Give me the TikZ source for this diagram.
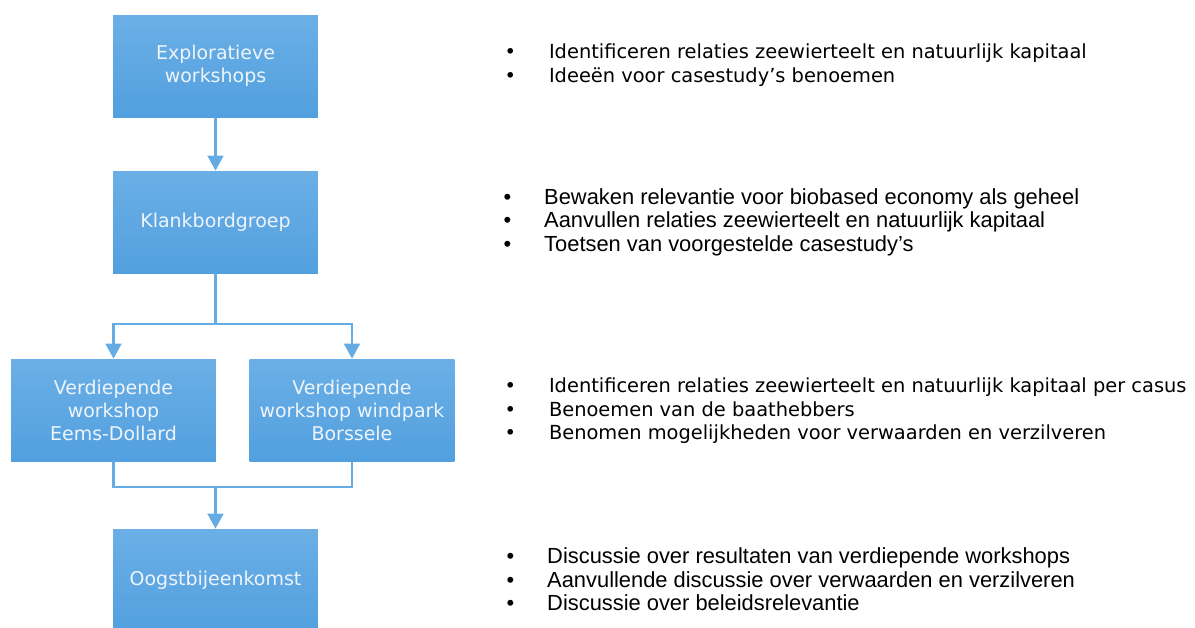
\documentclass[tikz,border=0pt]{standalone}
\usepackage{fontspec}
\setmainfont{DejaVu Sans}
\newfontfamily\arialfont{Liberation Sans}
\usetikzlibrary{arrows.meta}
\definecolor{boxtop}{HTML}{6BAFE6}
\definecolor{boxbot}{HTML}{52A0DF}
\definecolor{flow}{HTML}{66ACE4}
\definecolor{boxtext}{HTML}{EEF4FA}
\tikzset{blok/.style={top color=boxtop,bottom color=boxbot,draw=none,text=boxtext,
    minimum width=4.1cm,minimum height=2.04cm,align=center,inner sep=0pt,
    font=\fontsize{10.8}{13.1}\selectfont}}
\tikzset{lijn/.style={draw=flow,line width=1.15pt}}
\tikzset{pijl/.style={lijn,-{Triangle[width=9pt,length=8.5pt]}}}
\tikzset{lijst/.style={anchor=base west,align=left,inner sep=0pt,
    font=\fontsize{11.05}{13.1}\selectfont}}
\tikzset{lijstb/.style={lijst,font=\arialfont\fontsize{12.45}{13.1}\selectfont}}
\newcommand{\punt}[1]{\makebox[0pt][c]{\textbullet}\hspace{22pt}#1}
\newcommand{\puntb}[1]{\makebox[0pt][c]{\textbullet}\hspace{21pt}#1}

\begin{document}
\begin{tikzpicture}[x=0.02cm,y=-0.02cm]
  \useasboundingbox (0,0) rectangle (1195,627);
  % blokken
  \node[blok] (explo) at (215.5,66) {Exploratieve\\workshops};
  \node[blok] (klank) at (215.5,222) {Klankbordgroep};
  \node[blok] (eems) at (113.5,410) {Verdiepende\\workshop\\Eems-Dollard};
  \node[blok] (bors) at (352,410) {Verdiepende\\workshop windpark\\Borssele};
  \node[blok] (oogst) at (215.5,580) {Oogstbijeenkomst};
  % verbindingen
  \coordinate (split) at (215.5,324);
  \coordinate (merge) at (215.5,487);
  \draw[pijl] (explo) -- (klank);
  \draw[lijn] (klank.south) -- (split);
  \draw[pijl] (split) -| (eems.north);
  \draw[pijl] (split) -| (bors.north);
  \draw[lijn] (eems.south) |- (merge) -| (bors.south);
  \draw[pijl] (merge) -- (oogst.north);
  % toelichting (anker op basislijn van de laatste regel)
  \node[lijst] (l1) at (510,82) {\punt{Identificeren relaties zeewierteelt en natuurlijk kapitaal}\\
    \punt{Ideeën voor casestudy’s benoemen}};
  \node[lijstb] (l2) at (507,251) {\puntb{Bewaken relevantie voor biobased economy als geheel}\\
    \puntb{Aanvullen relaties zeewierteelt en natuurlijk kapitaal}\\
    \puntb{Toetsen van voorgestelde casestudy’s}};
  \node[lijst] (l3) at (510,439) {\punt{Identificeren relaties zeewierteelt en natuurlijk kapitaal per casus}\\
    \punt{Benoemen van de baathebbers}\\
    \punt{Benomen mogelijkheden voor verwaarden en verzilveren}};
  \node[lijstb] (l4) at (510,610) {\puntb{Discussie over resultaten van verdiepende workshops}\\
    \puntb{Aanvullende discussie over verwaarden en verzilveren}\\
    \puntb{Discussie over beleidsrelevantie}};
\end{tikzpicture}
\end{document}
